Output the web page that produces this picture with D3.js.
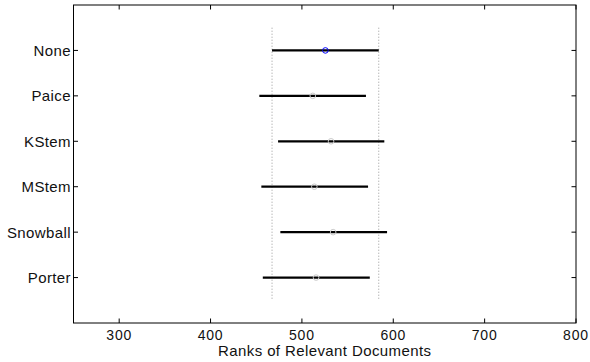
<!DOCTYPE html>
<html>
<head>
<meta charset="utf-8">
<script src="https://cdn.jsdelivr.net/npm/d3@7"></script>
<style>
  body { margin: 0; background: #fff; }
  text { font-family: "Liberation Sans", Arial, sans-serif; font-size: 15px; letter-spacing: 0.4px; fill: #111; }
  text.xtick { font-size: 14px; letter-spacing: 0.8px; }
</style>
</head>
<body>
<div id="viz"></div>
<script>
// group names, top to bottom
const groups = ["None", "Paice", "KStem", "MStem", "Snowball", "Porter"];
// group means and comparison interval ends
const means = [525.7, 511.9, 531.9, 513.6, 534.2, 515.5];
const lower = [467.3, 453.4, 473.9, 455.6, 476.4, 457.2];
const upper = [584.1, 570.1, 590.2, 572.4, 593.2, 574.3];
const xTicks = [300, 400, 500, 600, 700, 800];
const selected = 0; // "None" is highlighted

const W = 590, H = 362;
const margin = {left: 73.5, right: 14, top: 5, bottom: 39};

const svg = d3.select("#viz").append("svg")
  .attr("width", W)
  .attr("height", H);

//scales
const x = d3.scaleLinear().domain([250, 800]).range([margin.left, W - margin.right]);
const y = d3.scaleLinear().domain([0, groups.length + 1]).range([margin.top, H - margin.bottom]);

const x0 = x.range()[0], x1 = x.range()[1];
const y0 = y.range()[0], y1 = y.range()[1];

//dotted reference lines at the selected group's interval
[lower[selected], upper[selected]].forEach(v => {
  svg.append("line")
    .attr("x1", x(v)).attr("x2", x(v))
    .attr("y1", y(0.5)).attr("y2", y(groups.length + 0.5))
    .attr("stroke", "#999")
    .attr("stroke-width", 1)
    .attr("stroke-dasharray", "1,2");
});

//interval bars
svg.selectAll("line.bar")
  .data(groups)
  .enter()
  .append("line")
  .attr("class", "bar")
  .attr("x1", (d, i) => x(lower[i]))
  .attr("x2", (d, i) => x(upper[i]))
  .attr("y1", (d, i) => y(i + 1))
  .attr("y2", (d, i) => y(i + 1))
  .attr("stroke", "#000")
  .attr("stroke-width", 2.2);

//mean markers
svg.selectAll("circle.mean")
  .data(groups)
  .enter()
  .append("circle")
  .attr("class", "mean")
  .attr("cx", (d, i) => x(means[i]))
  .attr("cy", (d, i) => y(i + 1))
  .attr("r", 2.8)
  .attr("fill", "none")
  .attr("stroke", (d, i) => i === selected ? "#0000ff" : "#cccccc")
  .attr("stroke-width", 1);

//axes box
svg.append("rect")
  .attr("x", x0).attr("y", y0)
  .attr("width", x1 - x0).attr("height", y1 - y0)
  .attr("fill", "none")
  .attr("stroke", "#000")
  .attr("stroke-width", 1);

//x ticks (inward, top and bottom)
const tickLen = 4.5;
xTicks.forEach(t => {
  svg.append("line")
    .attr("x1", x(t)).attr("x2", x(t))
    .attr("y1", y1).attr("y2", y1 - tickLen)
    .attr("stroke", "#000");
  svg.append("line")
    .attr("x1", x(t)).attr("x2", x(t))
    .attr("y1", y0).attr("y2", y0 + tickLen)
    .attr("stroke", "#000");
  svg.append("text")
    .attr("class", "xtick")
    .attr("x", x(t))
    .attr("y", y1 + 16.5)
    .attr("text-anchor", "middle")
    .text(t);
});

//y ticks and labels
groups.forEach((g, i) => {
  svg.append("line")
    .attr("x1", x0).attr("x2", x0 + tickLen)
    .attr("y1", y(i + 1)).attr("y2", y(i + 1))
    .attr("stroke", "#000");
  svg.append("line")
    .attr("x1", x1).attr("x2", x1 - tickLen)
    .attr("y1", y(i + 1)).attr("y2", y(i + 1))
    .attr("stroke", "#000");
  svg.append("text")
    .attr("x", x0 - 2.5)
    .attr("y", y(i + 1))
    .attr("dy", "0.36em")
    .attr("text-anchor", "end")
    .text(g);
});

//axis title
svg.append("text")
  .attr("x", (x0 + x1) / 2)
  .attr("y", y1 + 33)
  .attr("text-anchor", "middle")
  .text("Ranks of Relevant Documents");
</script>
</body>
</html>
